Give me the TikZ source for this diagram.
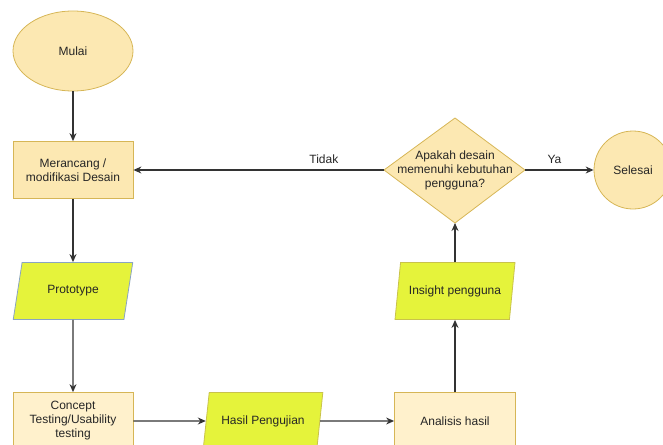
\documentclass[tikz,border=0pt]{standalone}
\usepackage{fontspec}
\setmainfont{Liberation Sans}
\usetikzlibrary{shapes.geometric,arrows.meta}
\definecolor{yfill}{HTML}{FCE8B2}
\definecolor{ylight}{HTML}{FFF1CC}
\definecolor{yborder}{HTML}{D6B656}
\definecolor{gfill}{HTML}{E5F33B}
\definecolor{bborder}{HTML}{8AA4C2}
\definecolor{oborder}{HTML}{C9C24B}
\definecolor{linec}{HTML}{333333}
\tikzset{
  every node/.style={font=\fontsize{12}{14}\selectfont, text=black!85, align=center},
  procbox/.style={rectangle, draw=yborder, fill=#1, minimum width=120pt, minimum height=57pt, inner sep=2pt, line width=0.8pt},
  procbox/.default=ylight,
  para/.style={trapezium, trapezium left angle=70, trapezium right angle=110, trapezium stretches=true, draw=#1, fill=gfill, minimum width=120pt, minimum height=57pt, inner sep=1pt, line width=0.8pt},
  termel/.style={ellipse, draw=yborder, fill=yfill, minimum width=120pt, minimum height=80pt, inner sep=0pt, line width=0.8pt},
  termcirc/.style={circle, draw=yborder, fill=yfill, minimum size=78pt, inner sep=0pt, line width=0.8pt},
  decisshape/.style={draw=yborder, fill=yfill, line width=0.8pt, line join=miter},
  flow/.style={draw=linec, line width=1.1pt, -{Stealth[length=8pt,width=7pt]}},
  lbl/.style={font=\fontsize{12}{14}\selectfont}
}
\begin{document}
\begin{tikzpicture}[x=1pt,y=1pt]
\useasboundingbox (0,0) rectangle (663,-444);
\node[termel] (mulai) at (73,-51) {Mulai};
\node[procbox=yfill] (merancang) at (73,-170) {Merancang /\\modifikasi Desain};
\node[para=bborder] (proto) at (73,-291) {Prototype};
\node[procbox] (concept) at (73,-421) {Concept\\Testing/Usability\\testing};
\node[para=oborder] (hasil) at (263,-421) {Hasil Pengujian};
\node[procbox, minimum width=121pt] (analisis) at (455,-421) {Analisis hasil};
\node[para=oborder] (insight) at (455,-291) {Insight pengguna};
% decision diamond
\coordinate (dleft) at (384,-170);
\coordinate (dtop) at (455,-118);
\coordinate (dright) at (525,-170);
\coordinate (dbottom) at (455,-223);
\path[decisshape] (dleft) -- (dtop) -- (dright) -- (dbottom) -- cycle;
\node (apakah) at (455,-170) {Apakah desain\\memenuhi kebutuhan\\pengguna?};
\node[termcirc] (selesai) at (633,-170) {Selesai};

\draw[flow] (mulai) -- (merancang);
\draw[flow] (merancang) -- (proto);
\draw[flow] (proto) -- (concept);
\draw[flow] (concept) -- (hasil);
\draw[flow] (hasil) -- (analisis);
\draw[flow] (analisis) -- (insight);
\draw[flow] (insight) -- (dbottom);
\draw[flow] (dleft) -- node[lbl, pos=0.24, above=3pt] (tidak) {Tidak} (merancang);
\draw[flow] (dright) -- node[lbl, pos=0.43, above=3pt] (ya) {Ya} (selesai);
\end{tikzpicture}
\end{document}
